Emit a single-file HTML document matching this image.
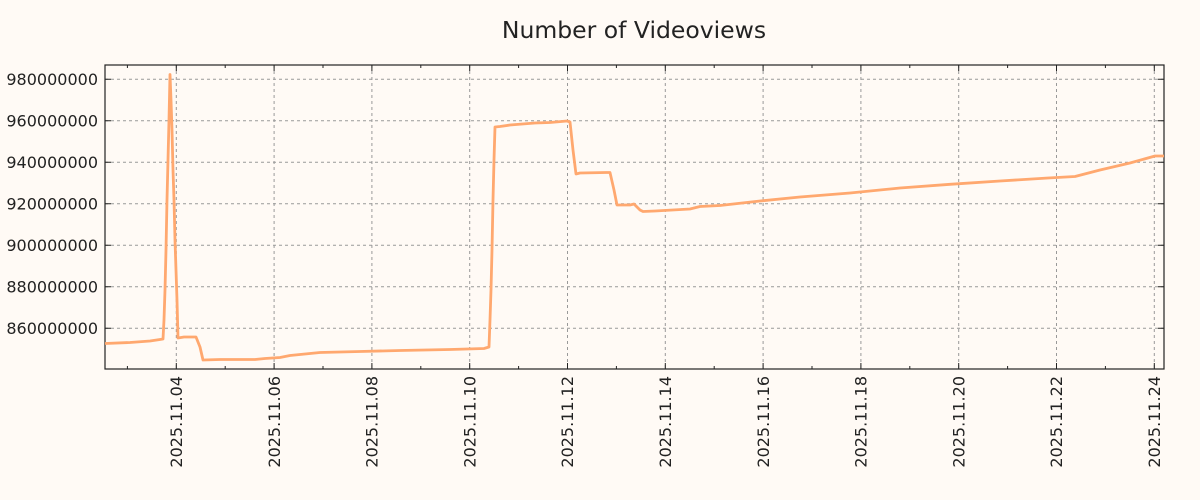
<!DOCTYPE html>
<html><head><meta charset="utf-8"><style>
body{margin:0;background:#fffaf5;}
svg{display:block;font-family:"DejaVu Sans","Liberation Sans",sans-serif;}
</style></head><body>
<svg width="1200" height="500" viewBox="0 0 1200 500">
<rect width="1200" height="500" fill="#fffaf5"/>
<text x="634" y="38" font-size="23.5" text-anchor="middle" fill="#222">Number of Videoviews</text>
<g stroke="#999" stroke-width="1" stroke-dasharray="3,3">
<line x1="105" x2="1164" y1="79.3" y2="79.3"/>
<line x1="105" x2="1164" y1="120.8" y2="120.8"/>
<line x1="105" x2="1164" y1="162.3" y2="162.3"/>
<line x1="105" x2="1164" y1="203.8" y2="203.8"/>
<line x1="105" x2="1164" y1="245.3" y2="245.3"/>
<line x1="105" x2="1164" y1="286.8" y2="286.8"/>
<line x1="105" x2="1164" y1="328.3" y2="328.3"/>
<line y1="65" y2="369" x1="176.3" x2="176.3"/>
<line y1="65" y2="369" x1="274.1" x2="274.1"/>
<line y1="65" y2="369" x1="371.9" x2="371.9"/>
<line y1="65" y2="369" x1="469.7" x2="469.7"/>
<line y1="65" y2="369" x1="567.5" x2="567.5"/>
<line y1="65" y2="369" x1="665.3" x2="665.3"/>
<line y1="65" y2="369" x1="763.1" x2="763.1"/>
<line y1="65" y2="369" x1="860.9" x2="860.9"/>
<line y1="65" y2="369" x1="958.7" x2="958.7"/>
<line y1="65" y2="369" x1="1056.5" x2="1056.5"/>
<line y1="65" y2="369" x1="1154.3" x2="1154.3"/>
</g>
<g stroke="#222" stroke-width="1">
<path d="M176.3 369v-6M274.1 369v-6M371.9 369v-6M469.7 369v-6M567.5 369v-6M665.3 369v-6M763.1 369v-6M860.9 369v-6M958.7 369v-6M1056.5 369v-6M1154.3 369v-6
M176.3 65v6M274.1 65v6M371.9 65v6M469.7 65v6M567.5 65v6M665.3 65v6M763.1 65v6M860.9 65v6M958.7 65v6M1056.5 65v6M1154.3 65v6
M127.4 369v-3M225.2 369v-3M323 369v-3M420.8 369v-3M518.6 369v-3M616.4 369v-3M714.2 369v-3M812 369v-3M909.8 369v-3M1007.6 369v-3M1105.4 369v-3
M127.4 65v3M225.2 65v3M323 65v3M420.8 65v3M518.6 65v3M616.4 65v3M714.2 65v3M812 65v3M909.8 65v3M1007.6 65v3M1105.4 65v3
M105 79.3h6M105 120.8h6M105 162.3h6M105 203.8h6M105 245.3h6M105 286.8h6M105 328.3h6
M1164 79.3h-6M1164 120.8h-6M1164 162.3h-6M1164 203.8h-6M1164 245.3h-6M1164 286.8h-6M1164 328.3h-6"/>
</g>
<rect x="105" y="65" width="1059" height="304" fill="none" stroke="#222" stroke-width="1.2"/>
<polyline fill="none" stroke="#ffa86f" stroke-width="2.8" stroke-linejoin="round"
points="105,343.5 130,342.5 150,341 160,339.5 163,339 164,320 165,290 166,250 167,200 168,160 169,120 170,74.5 171,100 172,130 173,170 174,200 175,240 176,270 177,300 178,338 184,337 196,337 200,347 203,360 220,359.5 255,359.5 265,358.5 280,357.5 290,355.5 300,354.5 320,352.5 360,351.5 400,350.5 450,349.5 484,348.5 489,347 490,320 491,290 492,250 493,200 494,160 495,127 500,126.5 510,125 535,123 550,122.5 567,121 570,122 573,150 576,174 580,173 606,172.5 610,172.5 614,190 617,205 630,205 634,204 640,210 643,211.5 655,211 690,209 700,206.5 720,205.5 760,201 800,197 850,193 900,188 950,184.3 1000,181 1048,178 1075,176.5 1100,170 1130,163 1155,156 1164,156"/>
<g font-size="16" fill="#222" text-anchor="end">
<text x="98" y="85">980000000</text>
<text x="98" y="126.5">960000000</text>
<text x="98" y="168">940000000</text>
<text x="98" y="209.5">920000000</text>
<text x="98" y="251">900000000</text>
<text x="98" y="292.5">880000000</text>
<text x="98" y="334">860000000</text>
</g>
<g font-size="16" fill="#222" text-anchor="end">
<text transform="translate(182,376) rotate(-90)">2025.11.04</text>
<text transform="translate(279.8,376) rotate(-90)">2025.11.06</text>
<text transform="translate(377.6,376) rotate(-90)">2025.11.08</text>
<text transform="translate(475.4,376) rotate(-90)">2025.11.10</text>
<text transform="translate(573.2,376) rotate(-90)">2025.11.12</text>
<text transform="translate(671,376) rotate(-90)">2025.11.14</text>
<text transform="translate(768.8,376) rotate(-90)">2025.11.16</text>
<text transform="translate(866.6,376) rotate(-90)">2025.11.18</text>
<text transform="translate(964.4,376) rotate(-90)">2025.11.20</text>
<text transform="translate(1062.2,376) rotate(-90)">2025.11.22</text>
<text transform="translate(1160,376) rotate(-90)">2025.11.24</text>
</g>
</svg>
</body></html>
